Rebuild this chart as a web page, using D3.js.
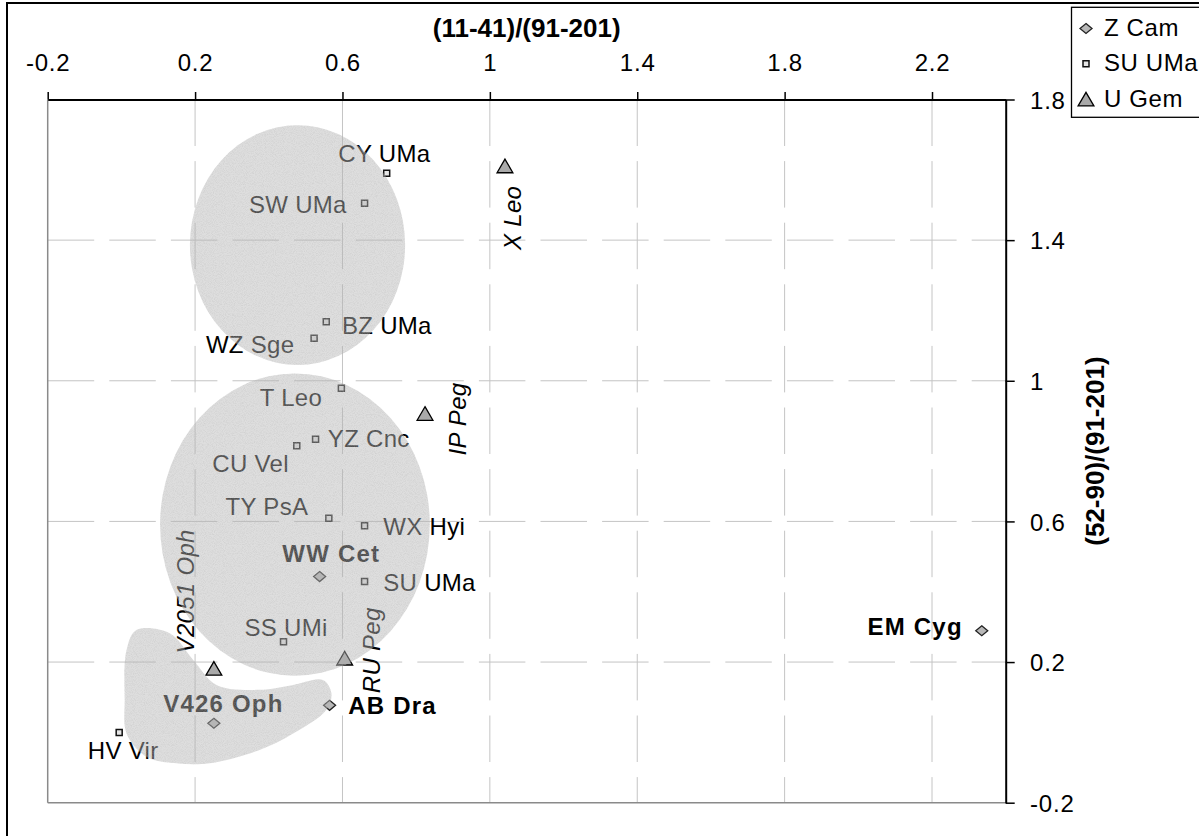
<!DOCTYPE html>
<html>
<head>
<meta charset="utf-8">
<script src="https://cdn.jsdelivr.net/npm/d3@7"></script>
<style>
  html, body { margin: 0; padding: 0; background: #fff; }
  svg { display: block; }
  text { font-family: "Liberation Sans", Arial, sans-serif; }
</style>
</head>
<body>
<div id="chart"></div>
<script>
// ---------------- data ----------------
const xTicks = [-0.2, 0.2, 0.6, 1.0, 1.4, 1.8, 2.2];
const xTickLabels = ["-0.2", "0.2", "0.6", "1", "1.4", "1.8", "2.2"];
const yTicks = [-0.2, 0.2, 0.6, 1.0, 1.4, 1.8];
const yTickLabels = ["-0.2", "0.2", "0.6", "1", "1.4", "1.8"];

const seriesNames = ["Z Cam", "SU UMa", "U Gem"];

const zcamNames = ["WW Cet", "V426 Oph", "AB Dra", "EM Cyg"];
const zcamX = [0.538, 0.251, 0.565, 2.335];
const zcamY = [0.443, 0.026, 0.077, 0.289];

const suumaNames = ["CY UMa", "SW UMa", "BZ UMa", "WZ Sge", "T Leo", "YZ Cnc", "CU Vel",
                    "TY PsA", "WX Hyi", "SU UMa", "SS UMi", "HV Vir"];
const suumaX = [0.720, 0.660, 0.556, 0.523, 0.597, 0.527, 0.476, 0.563, 0.660, 0.660, 0.440, -0.006];
const suumaY = [1.590, 1.505, 1.168, 1.121, 0.979, 0.834, 0.815, 0.609, 0.588, 0.429, 0.258, 0.000];

const ugemNames = ["X Leo", "IP Peg", "V2051 Oph", "RU Peg"];
const ugemX = [1.041, 0.824, 0.251, 0.606];
const ugemY = [1.611, 0.907, 0.182, 0.211];

// shaded clouds (data units)
const cloudCx = [0.478, 0.471];
const cloudCy = [1.386, 0.591];
const cloudRx = [0.292, 0.366];
const cloudRy = [0.341, 0.430];
const crescentX = [0.041, 0.131, 0.195, 0.258, 0.375, 0.466, 0.547, 0.570, 0.556, 0.466,
                   0.375, 0.240, 0.150, 0.068, 0.014, 0.009, 0.014];
const crescentY = [0.291, 0.282, 0.206, 0.135, 0.121, 0.135, 0.149, 0.111, 0.064, -0.003,
                   -0.050, -0.088, -0.088, -0.069, -0.003, 0.092, 0.234];

// ---------------- layout ----------------
const W = 1199, H = 836;
const FONT = 24;
const x = d3.scaleLinear().domain([-0.2, 2.4]).range([47.7, 1005.7]);
const y = d3.scaleLinear().domain([-0.2, 1.8]).range([802.7, 99.5]);

// label placement relative to the marker (pixels)
const labelLayout = {
  "WW Cet":   {dx: -37.3, dy: -15, bold: true},
  "V426 Oph": {dx: -50.6, dy: -11.7, bold: true},
  "AB Dra":   {dx: 18.7, dy: 9, bold: true},
  "EM Cyg":   {dx: -19, dy: 4.3, bold: true, anchor: "end"},
  "CY UMa":   {dx: -48.4, dy: -11.6},
  "SW UMa":   {dx: -115.6, dy: 9.5},
  "BZ UMa":   {dx: 15.7, dy: 12.6},
  "WZ Sge":   {dx: -108.2, dy: 15.1},
  "T Leo":    {dx: -81.7, dy: 17.6},
  "YZ Cnc":   {dx: 12.3, dy: 7.7},
  "CU Vel":   {dx: -84.5, dy: 26},
  "TY PsA":   {dx: -103.3, dy: -3.3},
  "WX Hyi":   {dx: 18.7, dy: 9.2},
  "SU UMa":   {dx: 18.7, dy: 9},
  "SS UMi":   {dx: -39, dy: -5.7},
  "HV Vir":   {dx: -31.4, dy: 27},
  "X Leo":    {dx: 16, dy: 84, italic: true, rotate: true},
  "IP Peg":   {dx: 41, dy: 42, italic: true, rotate: true},
  "V2051 Oph":{dx: -20, dy: -15, italic: true, rotate: true},
  "RU Peg":   {dx: 35, dy: 35, italic: true, rotate: true}
};

const svg = d3.select("#chart").append("svg")
  .attr("width", W).attr("height", H)
  .attr("viewBox", `0 0 ${W} ${H}`);

// speckle texture for the shaded clouds
const defs = svg.append("defs");
const f = defs.append("filter").attr("id", "speckle")
  .attr("filterUnits", "userSpaceOnUse")
  .attr("x", 0).attr("y", 0).attr("width", W).attr("height", H);
f.append("feTurbulence").attr("type", "fractalNoise").attr("baseFrequency", 1.1)
  .attr("numOctaves", 1).attr("seed", 7).attr("result", "noise");
f.append("feColorMatrix").attr("in", "noise").attr("type", "matrix")
  .attr("values", "0 0 0 0 0.45  0 0 0 0 0.45  0 0 0 0 0.45  1.6 0 0 0 -0.62")
  .attr("result", "grain");
f.append("feComposite").attr("in", "grain").attr("in2", "SourceGraphic")
  .attr("operator", "in").attr("result", "grainIn");
const fm = f.append("feMerge");
fm.append("feMergeNode").attr("in", "SourceGraphic");
fm.append("feMergeNode").attr("in", "grainIn");

// outer chart border
svg.append("rect").attr("x", 7).attr("y", 3).attr("width", 1210).attr("height", 850)
  .attr("fill", "#fff").attr("stroke", "#000").attr("stroke-width", 2);

const [x0, x1] = x.range();
const [y0, y1] = [y(1.8), y(-0.2)];

// gridlines
const grid = svg.append("g");
grid.selectAll("line.vx").data(xTicks.filter(v => v > -0.2)).join("line")
  .attr("x1", d => x(d)).attr("x2", d => x(d))
  .attr("y1", y0).attr("y2", y1)
  .attr("stroke", "#c4c4c4").attr("stroke-width", 1)
  .attr("stroke-dasharray", "46.5,15.1");
grid.selectAll("line.hy").data(yTicks.filter(v => v > -0.2 && v < 1.8)).join("line")
  .attr("x1", x0).attr("x2", x1)
  .attr("y1", d => y(d)).attr("y2", d => y(d))
  .attr("stroke", "#c4c4c4").attr("stroke-width", 1)
  .attr("stroke-dasharray", "46.5,15.1");

// gray plot borders (left and bottom)
svg.append("line").attr("x1", x0).attr("x2", x0).attr("y1", y0).attr("y2", y1)
  .attr("stroke", "#8a8a8a").attr("stroke-width", 1.5);
svg.append("line").attr("x1", x0).attr("x2", x1).attr("y1", y1).attr("y2", y1)
  .attr("stroke", "#8a8a8a").attr("stroke-width", 1.5);

// axes
const xAxis = d3.axisTop(x).tickValues(xTicks)
  .tickFormat((d, i) => xTickLabels[i]).tickSize(7.5).tickSizeOuter(0).tickPadding(21);
const gx = svg.append("g").attr("transform", `translate(0,${y0})`).call(xAxis);
const yAxis = d3.axisRight(y).tickValues(yTicks)
  .tickFormat((d, i) => yTickLabels[i]).tickSize(9).tickSizeOuter(0).tickPadding(15.3);
const gy = svg.append("g").attr("transform", `translate(${x1},0)`).call(yAxis);
[gx, gy].forEach(g => {
  g.select(".domain").attr("stroke", "#000").attr("stroke-width", 2);
  g.selectAll(".tick line").attr("stroke", "#000").attr("stroke-width", 1.5);
  g.selectAll(".tick text").attr("font-size", FONT).attr("fill", "#000")
    .attr("letter-spacing", 0.8)
    .style("font-family", '"Liberation Sans", Arial, sans-serif');
});
gy.selectAll(".tick text").attr("dy", "0.36em");

// axis titles
svg.append("text").attr("x", (x0 + x1) / 2).attr("y", 37.3)
  .attr("text-anchor", "middle").attr("font-size", 26).attr("font-weight", "bold")
  .text("(11-41)/(91-201)");
svg.append("text")
  .attr("transform", `translate(1104,${(y0 + y1) / 2}) rotate(-90)`)
  .attr("text-anchor", "middle").attr("font-size", 26).attr("font-weight", "bold")
  .text("(52-90)/(91-201)");

// marker shapes
const diamondPath = "M0,-5 L6,0 L0,5 L-6,0 Z";
const squarePath = "M-3,-3 L3,-3 L3,3 L-3,3 Z";
const trianglePath = "M0,-6.8 L7.9,6.8 L-7.9,6.8 Z";
const markerStyle = {
  "Z Cam":  {path: diamondPath, fill: "#b8b8b8", stroke: "#222", sw: 1.3},
  "SU UMa": {path: squarePath, fill: "#e6e6e6", stroke: "#111", sw: 1.5},
  "U Gem":  {path: trianglePath, fill: "#a9a9a9", stroke: "#000", sw: 1.3}
};

const series = [
  {name: "Z Cam", names: zcamNames, xs: zcamX, ys: zcamY},
  {name: "SU UMa", names: suumaNames, xs: suumaX, ys: suumaY},
  {name: "U Gem", names: ugemNames, xs: ugemX, ys: ugemY}
];

const marks = svg.append("g");
const labels = svg.append("g");
series.forEach(s => {
  const st = markerStyle[s.name];
  const pts = s.names.map((n, i) => ({n, vx: s.xs[i], vy: s.ys[i]}));
  marks.selectAll(null).data(pts).join("path")
    .attr("d", st.path)
    .attr("transform", d => `translate(${x(d.vx)},${y(d.vy)})`)
    .attr("fill", st.fill).attr("stroke", st.stroke).attr("stroke-width", st.sw);
  pts.forEach(d => {
    const L = labelLayout[d.n];
    const px = x(d.vx) + L.dx, py = y(d.vy) + L.dy;
    const t = labels.append("text")
      .attr("font-size", FONT)
      .attr("fill", "#000")
      .attr("text-anchor", L.anchor || "start")
      .attr("font-weight", L.bold ? "bold" : "normal")
      .attr("font-style", L.italic ? "italic" : "normal")
      .attr("letter-spacing", L.bold ? 1.2 : 0.3)
      .text(d.n);
    if (L.rotate) t.attr("transform", `translate(${px},${py}) rotate(-90)`);
    else t.attr("x", px).attr("y", py);
  });
});

// shaded clouds drawn on top, semi-transparent, with grain
const clouds = svg.append("g").attr("filter", "url(#speckle)");
const cloudFill = {fill: "#b3b3b3", op: 0.44};
clouds.selectAll("ellipse").data(cloudCx.map((c, i) => i)).join("ellipse")
  .attr("cx", i => x(cloudCx[i])).attr("cy", i => y(cloudCy[i]))
  .attr("rx", i => x(cloudCx[i] + cloudRx[i]) - x(cloudCx[i]))
  .attr("ry", i => y(cloudCy[i] - cloudRy[i]) - y(cloudCy[i]))
  .attr("fill", cloudFill.fill).attr("fill-opacity", cloudFill.op);
const crescent = crescentX.map((v, i) => [x(v), y(crescentY[i])]);
clouds.append("path")
  .attr("d", d3.line().curve(d3.curveCatmullRomClosed.alpha(0.5))(crescent))
  .attr("fill", cloudFill.fill).attr("fill-opacity", cloudFill.op);

// legend
const lg = svg.append("g");
lg.append("rect").attr("x", 1071.5).attr("y", 7.3).attr("width", 140).attr("height", 110)
  .attr("fill", "#fff").attr("stroke", "#000").attr("stroke-width", 1.3);
seriesNames.forEach((n, i) => {
  const st = markerStyle[n];
  const cy = 28.5 + i * 35.3;
  lg.append("path").attr("d", st.path)
    .attr("transform", `translate(1086,${cy})`)
    .attr("fill", st.fill).attr("stroke", st.stroke).attr("stroke-width", st.sw);
  lg.append("text").attr("x", 1104).attr("y", cy + 7.5)
    .attr("font-size", FONT).attr("letter-spacing", 0.6).text(n);
});
</script>
</body>
</html>
